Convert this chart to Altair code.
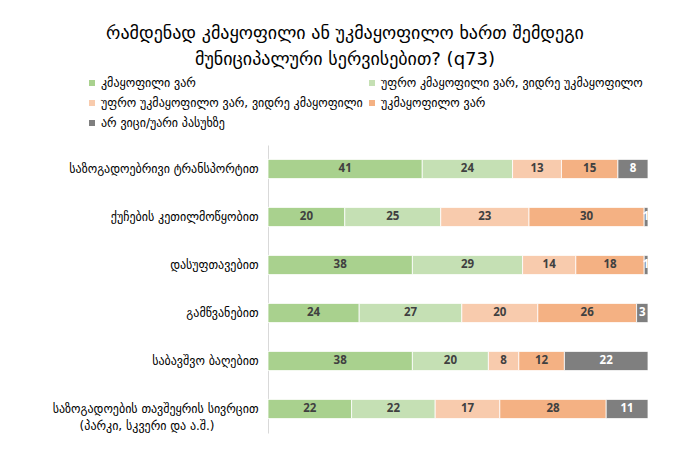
import altair as alt
import pandas as pd

BLANK = "\u2800"

categories = [
    "საზოგადოებრივი ტრანსპორტით",
    "ქუჩების კეთილმოწყობით",
    "დასუფთავებით",
    "გამწვანებით",
    "საბავშვო ბაღებით",
    "საზოგადოების თავშეყრის სივრცით|(პარკი, სკვერი და ა.შ.)" + BLANK * 5,
]
responses = [
    "კმაყოფილი ვარ",
    "უფრო კმაყოფილი ვარ, ვიდრე უკმაყოფილო",
    "უფრო უკმაყოფილო ვარ, ვიდრე კმაყოფილი",
    "უკმაყოფილო ვარ",
    "არ ვიცი/უარი პასუხზე",
]
satisfied = [41, 20, 38, 24, 38, 22]
rather_satisfied = [24, 25, 29, 27, 20, 22]
rather_dissatisfied = [13, 23, 14, 20, 8, 17]
dissatisfied = [15, 30, 18, 26, 12, 28]
dont_know = [8, 1, 1, 3, 22, 11]
colors = ["#A9D18E", "#C5E0B4", "#F8CBAD", "#F4B183", "#7F7F7F"]

series = [satisfied, rather_satisfied, rather_dissatisfied, dissatisfied, dont_know]
rows = []
for i, c in enumerate(categories):
    for j, r in enumerate(responses):
        rows.append({"cat": c, "resp": r, "order": j, "value": series[j][i]})
df = pd.DataFrame(rows)

GEO = "DejaVu Sans"

base = alt.Chart(df).transform_stack(
    stack="value",
    groupby=["cat"],
    as_=["x0", "x1"],
    offset="normalize",
    sort=[alt.SortField("order", "ascending")],
).transform_calculate(mid="(datum.x0 + datum.x1) / 2")

y = alt.Y(
    "cat:N",
    sort=categories,
    title=None,
    scale=alt.Scale(paddingInner=0.6, paddingOuter=0.3),
    axis=alt.Axis(
        labelExpr="split(datum.label, '|')",
        labelFont=GEO,
        labelFontSize=12,
        labelColor="#000000",
        labelLineHeight=17,
        labelPadding=10,
        labelLimit=0,
        ticks=False,
        domainColor="#D9D9D9",
        grid=False,
    ),
)

bars = base.mark_bar(stroke="white", strokeWidth=0.8).encode(
    x=alt.X("x0:Q", axis=None, scale=alt.Scale(domain=[0, 1])),
    x2="x1:Q",
    y=y,
    color=alt.Color(
        "resp:N",
        sort=responses,
        scale=alt.Scale(domain=responses, range=colors),
        legend=alt.Legend(
            title=None,
            orient="none",
            direction="horizontal",
            legendX=-182,
            legendY=-68,
            columns=2,
            columnPadding=3,
            rowPadding=8,
            symbolType="square",
            symbolSize=36,
            symbolStrokeWidth=0,
            labelOffset=3,
            labelFont=GEO,
            labelFontSize=12,
            labelColor="#000000",
            labelLimit=0,
            padding=0,
        ),
    ),
)

text = base.mark_text(font="Open Sans", fontWeight="bold", fontSize=11.5).encode(
    x="mid:Q",
    y=y,
    text="value:Q",
    color=alt.condition(
        alt.datum.resp == responses[4], alt.value("white"), alt.value("#404040")
    ),
)

chart = (
    alt.layer(bars, text)
    .properties(
        width=380,
        height=288,
        padding={"left": 260, "top": 137, "right": 34, "bottom": 12},
        autosize=alt.AutoSizeParams(type="none"),
        title=alt.TitleParams(
            ["რამდენად კმაყოფილი ან  უკმაყოფილო ხართ შემდეგი", "მუნიციპალური სერვისებით? (q73)"],
            anchor="start",
            frame="group",
            align="center",
            dx=77,
            offset=8,
            font=GEO,
            fontSize=18,
            fontWeight="normal",
            lineHeight=26,
            color="#000000",
        ),
    )
    .configure_view(stroke=None)
)

chart.save("out.html", embed_options={"renderer": "svg", "actions": False})
